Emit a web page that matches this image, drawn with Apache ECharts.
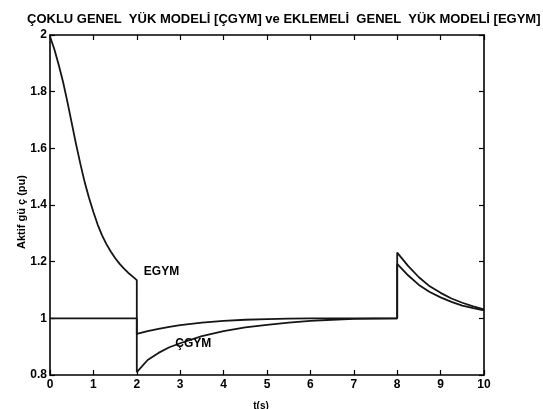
<!DOCTYPE html>
<html>
<head>
<meta charset="utf-8">
<script src="https://cdn.jsdelivr.net/npm/echarts@6/dist/echarts.min.js"></script>
<style>
html,body{margin:0;padding:0;background:#fff;}
#c{width:543px;height:409px;}
</style>
</head>
<body>
<div id="c"></div>
<script>
// ---- data ----
const titleText = 'ÇOKLU GENEL  YÜK MODELİ [ÇGYM] ve EKLEMELİ  GENEL  YÜK MODELİ [EGYM]';
const yName = 'Aktif gü ç (pu)';
const xName = 't(s)';
const xTicks = [0, 10, 1];          // min, max, interval
const yTicks = [0.8, 2, 0.2];

// EGYM (additive general load model)
const egymT = [0, 0.1, 0.2, 0.3, 0.4, 0.5, 0.6, 0.7, 0.8, 0.9, 1.0,
               1.1, 1.2, 1.3, 1.4, 1.5, 1.6, 1.7, 1.8, 1.9, 2.0,
               2.0, 2.25, 2.5, 2.75, 3.0, 3.5, 4.0, 4.5, 5.0, 5.5, 6.0, 7.0, 8.0,
               8.0, 8.25, 8.5, 8.75, 9.0, 9.25, 9.5, 9.75, 10.0];
const egymV = [1.995, 1.95, 1.895, 1.835, 1.765, 1.69, 1.615, 1.545, 1.48, 1.425, 1.375,
               1.33, 1.293, 1.262, 1.236, 1.213, 1.193, 1.176, 1.161, 1.148, 1.135,
               0.945, 0.955, 0.963, 0.970, 0.976, 0.985, 0.991, 0.995, 0.997, 0.999, 1.0, 1.0, 1.0,
               1.232, 1.185, 1.145, 1.113, 1.090, 1.070, 1.055, 1.042, 1.032];

// ÇGYM (multiple general load model)
const cgymT = [0, 2.0,
               2.0, 2.25, 2.5, 2.75, 3.0, 3.5, 4.0, 4.5, 5.0, 5.5, 6.0, 6.5, 7.0, 7.5, 8.0,
               8.0, 8.25, 8.5, 8.75, 9.0, 9.25, 9.5, 9.75, 10.0];
const cgymV = [1.0, 1.0,
               0.81, 0.853, 0.878, 0.898, 0.912, 0.937, 0.955, 0.968, 0.977, 0.985, 0.991, 0.995, 0.998, 0.999, 1.0,
               1.192, 1.152, 1.118, 1.093, 1.074, 1.058, 1.045, 1.036, 1.028];

// curve labels: [text, t, value]
const curveLabels = [['EGYM', 2.57, 1.163], ['ÇGYM', 3.3, 0.909]];

// ---- chart ----
const FONT = 'Liberation Sans, Arial, sans-serif';
const zip = (a, b) => a.map((v, i) => [v, b[i]]);
const chart = echarts.init(document.getElementById('c'), null, {renderer: 'canvas'});

const axisCommon = {
  type: 'value',
  axisLine: {show: true, onZero: false, lineStyle: {color: '#000', width: 1.6}},
  axisTick: {show: true, inside: true, length: 5, lineStyle: {color: '#000', width: 1.2}},
  splitLine: {show: false}
};

const lineStyle = {color: '#151515', width: 1.8};

chart.setOption({
  animation: false,
  backgroundColor: '#fff',
  title: {
    text: titleText, left: 22, top: 8,
    textStyle: {fontFamily: FONT, fontWeight: 'bold', fontSize: 13, color: '#000'}
  },
  grid: {left: 50, right: 59, top: 35, bottom: 34},
  xAxis: [
    Object.assign({}, axisCommon, {
      position: 'bottom', min: xTicks[0], max: xTicks[1], interval: xTicks[2],
      axisLabel: {color: '#000', fontFamily: FONT, fontWeight: 'bold', fontSize: 12, margin: 4}
    }),
    Object.assign({}, axisCommon, {
      position: 'top', min: xTicks[0], max: xTicks[1], interval: xTicks[2],
      axisLabel: {show: false}
    })
  ],
  yAxis: [
    Object.assign({}, axisCommon, {
      position: 'left', min: yTicks[0], max: yTicks[1], interval: yTicks[2],
      axisLabel: {color: '#000', fontFamily: FONT, fontWeight: 'bold', fontSize: 12, margin: 3,
        formatter: v => String(parseFloat(v.toFixed(1)))}
    }),
    Object.assign({}, axisCommon, {
      position: 'right', min: yTicks[0], max: yTicks[1], interval: yTicks[2],
      axisLabel: {show: false}
    })
  ],
  series: [
    {type: 'line', name: 'EGYM', data: zip(egymT, egymV), showSymbol: false, symbol: 'none',
     lineStyle: lineStyle, z: 3},
    {type: 'line', name: 'ÇGYM', data: zip(cgymT, cgymV), showSymbol: false, symbol: 'none',
     lineStyle: lineStyle, z: 3}
  ]
});

const g = [];
curveLabels.forEach(([txt, t, v]) => {
  const p = chart.convertToPixel({xAxisIndex: 0, yAxisIndex: 0}, [t, v]);
  g.push({type: 'text', x: p[0], y: p[1], z: 10,
    style: {text: txt, textAlign: 'center', textVerticalAlign: 'middle',
      font: 'bold 12px ' + FONT, fill: '#000'}});
});
g.push({type: 'text', x: 22, y: 212, rotation: Math.PI / 2, z: 10,
  style: {text: yName, textAlign: 'center', textVerticalAlign: 'middle',
    font: 'bold 11px ' + FONT, fill: '#000'}});
g.push({type: 'text', x: 261, y: 406, z: 10,
  style: {text: xName, textAlign: 'center', textVerticalAlign: 'middle',
    font: 'bold 10px ' + FONT, fill: '#000'}});
chart.setOption({graphic: g});
</script>
</body>
</html>
